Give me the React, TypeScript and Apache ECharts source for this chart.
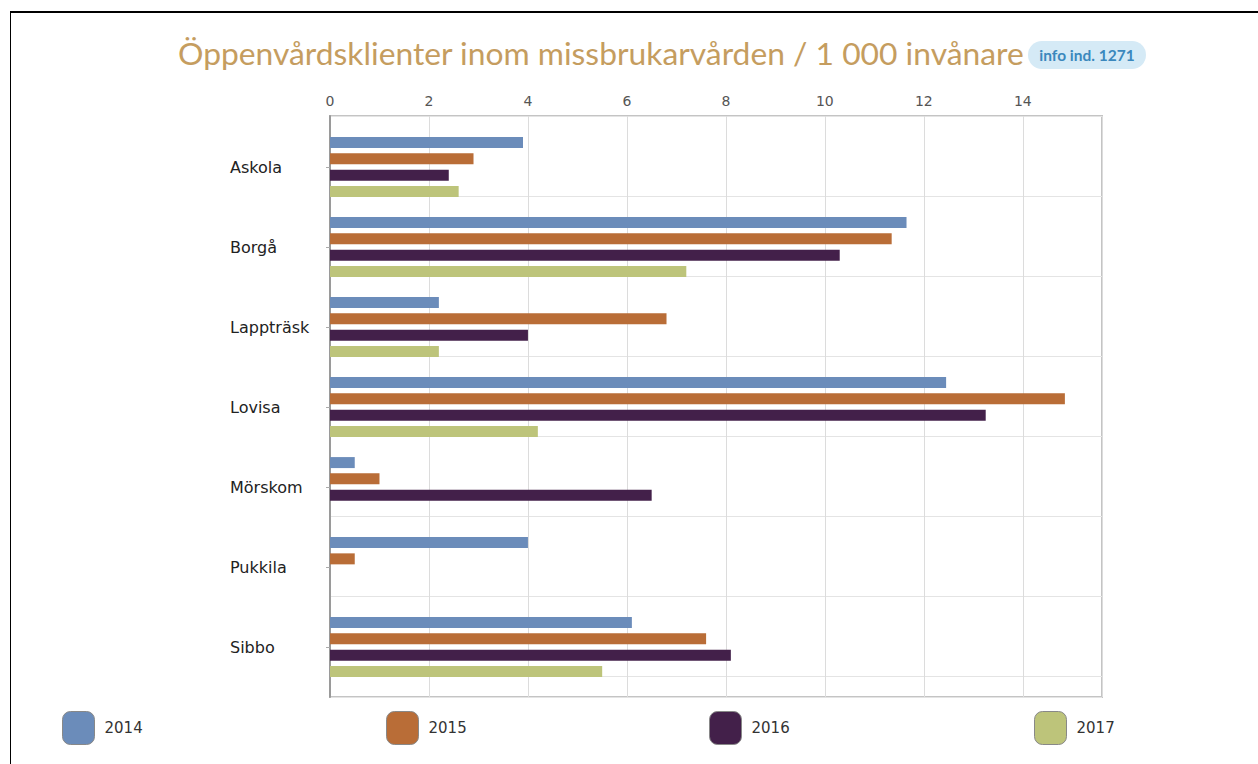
import React, { useEffect, useRef } from "react";
import * as echarts from "echarts";

const categories = ["Askola", "Borgå", "Lappträsk", "Lovisa", "Mörskom", "Pukkila", "Sibbo"];
const years = ["2014", "2015", "2016", "2017"];
const v2014 = [3.9, 11.65, 2.2, 12.45, 0.5, 4.0, 6.1];
const v2015 = [2.9, 11.35, 6.8, 14.85, 1.0, 0.5, 7.6];
const v2016 = [2.4, 10.3, 4.0, 13.25, 6.5, null, 8.1];
const v2017 = [2.6, 7.2, 2.2, 4.2, null, null, 5.5];
const seriesValues = [v2014, v2015, v2016, v2017];
const colors = ["#6b8cba", "#b96d37", "#43204a", "#bdc47a"];
const xTicks = [0, 2, 4, 6, 8, 10, 12, 14];
const titleText = "Öppenvårdsklienter inom missbrukarvården / 1 000 invånare";
const badgeText = "info ind. 1271";

export default function App() {
  const ref = useRef<HTMLDivElement>(null);
  useEffect(() => {
    if (!ref.current) return;
    const chart = echarts.init(ref.current, undefined, { renderer: "svg" });
    const legendLefts = [57, 381, 704, 1029];
    const option: any = {
      animation: false,
      backgroundColor: "#ffffff",
      title: {
        text: titleText,
        left: 173,
        top: 32,
        textStyle: { fontFamily: "Lato", fontWeight: "normal", fontSize: 31.8, color: "#c59d5f" },
      },
      graphic: [
        {
          type: "group",
          left: 1028,
          top: 41,
          children: [
            { type: "rect", shape: { x: 0, y: 0, width: 118, height: 28, r: 14 }, style: { fill: "#d5eaf6" } },
            {
              type: "text",
              x: 59,
              y: 14,
              style: {
                text: badgeText,
                fill: "#3b88bd",
                font: "bold 15.5px Lato",
                align: "center",
                verticalAlign: "middle",
              },
            },
          ],
        },
      ],
      legend: years.map((y, i) => ({
        data: [y],
        left: legendLefts[i],
        top: 706,
        itemWidth: 32,
        itemHeight: 33,
        itemGap: 10,
        icon: "roundRect",
        textStyle: { fontFamily: "DejaVu Sans", fontSize: 15, color: "#333", padding: [0, 0, 0, 5] },
        itemStyle: { borderColor: "#888", borderWidth: 1 },
      })),
      grid: [
        { left: 330, width: 772, top: 116, height: 581, show: true, borderColor: "#c4c4c4", borderWidth: 2, backgroundColor: "transparent" },
        { left: 330, width: 772, top: 127, height: 560 },
      ],
      xAxis: [
        {
          gridIndex: 0,
          type: "value",
          position: "top",
          min: 0,
          max: 15.6,
          interval: 2,
          axisLine: { show: false },
          axisTick: { show: false },
          axisLabel: {
            showMaxLabel: false,
            margin: 8,
            fontFamily: "DejaVu Sans",
            fontSize: 14,
            color: "#555",
            formatter: (v: number) => (xTicks.includes(v) ? String(v) : ""),
          },
          splitLine: { show: true, lineStyle: { color: "#dcdcdc", width: 1 } },
        },
        {
          gridIndex: 1,
          type: "value",
          min: 0,
          max: 15.6,
          show: false,
        },
      ],
      yAxis: [
        {
          gridIndex: 0,
          type: "value",
          inverse: true,
          min: 0,
          max: 581,
          interval: 80,
          axisLabel: { show: false },
          axisTick: { show: false },
          axisLine: { show: true, lineStyle: { color: "#9a9a9a", width: 2 } },
          splitLine: { show: true, lineStyle: { color: "#e4e4e4", width: 1 } },
        },
        {
          gridIndex: 1,
          type: "category",
          inverse: true,
          data: categories,
          axisLine: { show: false },
          axisTick: { show: true, alignWithLabel: true, length: 4, lineStyle: { color: "#aaa" } },
          splitLine: { show: false },
          axisLabel: {
            align: "left",
            margin: 100,
            fontFamily: "DejaVu Sans",
            fontSize: 16,
            color: "#222",
          },
        },
      ],
      series: seriesValues.map((vals, i) => ({
        name: years[i],
        type: "bar",
        xAxisIndex: 1,
        yAxisIndex: 1,
        data: vals,
        barWidth: 11,
        barGap: "48%",
        itemStyle: { color: colors[i] },
      })),
    };
    chart.setOption(option);
    return () => chart.dispose();
  }, []);
  return (
    <>
      <div
        style={{
          position: "fixed",
          left: 0,
          top: 0,
          width: 1258,
          height: 764,
        }}
        ref={ref}
      />
      <div
        style={{
          position: "fixed",
          left: 10,
          top: 11,
          width: 1260,
          height: 800,
          borderTop: "2px solid #000",
          borderLeft: "1px solid #000",
          pointerEvents: "none",
        }}
      />
    </>
  );
}
